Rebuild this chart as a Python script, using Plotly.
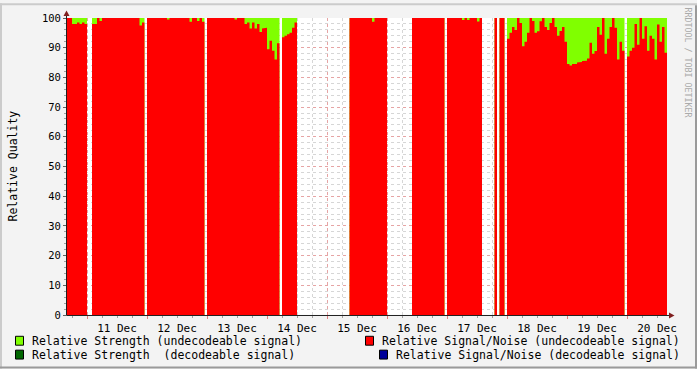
import plotly.graph_objects as go
from datetime import datetime, timedelta

# ---------------- data (hourly bins starting 10 Dec 16:00) ----------------
start = datetime(2008, 12, 10, 16, 0)
end = datetime(2008, 12, 20, 16, 0)
bin_hours = 1

seg_a = [100, 100, 98, 98, 98.5, 98, 98.5, 98]
seg_b = [98, 98, 100, 99] + [100] * 15 + [97.5, 98.5]
seg_c = [100] * 8 + [99.5] + [100] * 8 + [98.7, 100, 100, 99, 100, 98.7]
seg_d = [100] * 11 + [99.5, 100, 100, 100, 98, 98.5, 96.5, 98.5, 96.5, 98,
                      95.3, 96.5, 96.7, 89.5, 92.3, 89, 86, 91.5]
seg_e = [93.5, 94, 94.5, 95, 96.7, 98.5]
seg_f = [100] * 9 + [98.7] + [100] * 5
seg_g = [100] * 13
seg_h = [100] * 6 + [99.3, 100, 99.3, 100, 100, 100, 98.8, 100]
seg_i = [100]
seg_j = [100, 100]
seg_k = [93, 95, 97, 96, 100, 98.3, 90.5, 92, 95, 100, 99, 95, 95.5, 98.9, 100,
         97, 96, 98.3, 100, 97, 94, 95.6, 97, 92, 84.5, 84, 84.5, 84.5, 85, 85.2,
         85.5, 85.6, 86.4, 91.7, 88, 88.9, 97, 94.4, 100, 88, 93, 97, 100, 96.7,
         86, 92, 89]
seg_l = [87, 89, 90, 98, 91, 100, 93, 97.2, 89, 94, 93, 86, 97.8, 92, 97, 88.3]

# Relative Signal/Noise (undecodeable signal)
snr_undec = (seg_a + [None] * 2 + seg_b + [None] + seg_c + [None] + seg_d + [None]
             + seg_e + [None] * 21 + seg_f + [None] * 10 + seg_g + [None] + seg_h
             + [None] * 5 + seg_i + [None] + seg_j + [None] + seg_k + [None] + seg_l)

# Relative Strength (undecodeable signal)
str_undec = ([100] * 8 + [None] * 2 + [100] * 21 + [None] + [100] * 23 + [None]
             + [100] * 29 + [None] + [100] * 6 + [None] * 21 + [100] * 15
             + [None] * 10 + [100] * 13 + [None] + [100] * 14 + [None] * 5
             + [100] + [None] + [100] * 2 + [None] + [100] * 47 + [None] + [100] * 16)

legend_labels = [
    ("Relative Strength (undecodeable signal)", "#80FF00"),
    ("Relative Strength  (decodeable signal)", "#006600"),
    ("Relative Signal/Noise (undecodeable signal)", "#FF0000"),
    ("Relative Signal/Noise (decodeable signal)", "#000099"),
]
y_title = "Relative Quality"
watermark = "RRDTOOL / TOBI OETIKER"

FONT = "DejaVu Sans Mono"


def steps(values):
    """Step outline; missing bins collapse to zero height (no fill)."""
    xs, ys = [], []
    for k, v in enumerate(values):
        t0 = start + timedelta(hours=k * bin_hours)
        h = 0 if v is None else v
        xs += [t0, t0 + timedelta(hours=bin_hours)]
        ys += [h, h]
    return xs, ys


fig = go.Figure()
for vals, col in [(str_undec, "#80FF00"), (snr_undec, "#FF0000")]:
    xs, ys = steps(vals)
    fig.add_trace(go.Scatter(x=xs, y=ys, mode="lines", fill="tozeroy",
                             fillcolor=col, line=dict(width=0, color=col),
                             hoverinfo="skip", showlegend=False))

# pixel helpers for layout decoration (plot area 67..667 x 15..315)
L, R, T, B = 67, 667, 15, 315


def pxx(px):
    return (px - L) / (R - L)


def pyy(py):
    return (B - py) / (B - T)


shapes = []
# frame shading
shapes.append(dict(type="rect", xref="paper", yref="paper", x0=pxx(0), x1=pxx(697),
                   y0=pyy(0), y1=pyy(2), fillcolor="#CBCBCB", line_width=0))
shapes.append(dict(type="rect", xref="paper", yref="paper", x0=pxx(0), x1=pxx(2),
                   y0=pyy(0), y1=pyy(369), fillcolor="#CBCBCB", line_width=0))
shapes.append(dict(type="rect", xref="paper", yref="paper", x0=pxx(0), x1=pxx(697),
                   y0=pyy(367), y1=pyy(369), fillcolor="#9A9A9A", line_width=0))
shapes.append(dict(type="rect", xref="paper", yref="paper", x0=pxx(695), x1=pxx(697),
                   y0=pyy(2), y1=pyy(369), fillcolor="#9A9A9A", line_width=0))
# axis lines
shapes.append(dict(type="line", xref="paper", yref="paper", x0=pxx(66.5), x1=pxx(66.5),
                   y0=pyy(315.5), y1=pyy(11), line=dict(color="#202020", width=1)))
shapes.append(dict(type="line", xref="paper", yref="paper", x0=pxx(66.5), x1=pxx(671),
                   y0=pyy(315.5), y1=pyy(315.5), line=dict(color="#202020", width=1)))
# arrows
shapes.append(dict(type="path", xref="paper", yref="paper",
                   path=f"M {pxx(66.5)},{pyy(7.5)} L {pxx(63.5)},{pyy(13)} L {pxx(69.5)},{pyy(13)} Z",
                   fillcolor="#7F1F1F", line_width=0))
shapes.append(dict(type="path", xref="paper", yref="paper",
                   path=f"M {pxx(674.5)},{pyy(315.5)} L {pxx(669)},{pyy(312.5)} L {pxx(669)},{pyy(318.5)} Z",
                   fillcolor="#7F1F1F", line_width=0))

annotations = []
legend_pos = [(15, 30, 341), (15, 30, 355), (365, 380, 341), (379, 394, 355)]
for (label, col), (sx, tx, cy) in zip(legend_labels, legend_pos):
    shapes.append(dict(type="rect", xref="paper", yref="paper",
                       x0=pxx(sx + 0.5), x1=pxx(sx + 8.5), y0=pyy(cy - 4.5), y1=pyy(cy + 4.5),
                       fillcolor=col, line=dict(color="#000000", width=1)))
    annotations.append(dict(text=label, xref="paper", yref="paper", x=pxx(tx), y=pyy(cy),
                            xanchor="left", yanchor="middle", showarrow=False,
                            font=dict(family=FONT, size=11.5, color="#000000")))

annotations.append(dict(text=y_title, xref="paper", yref="paper", x=pxx(12), y=pyy(165),
                        xanchor="center", yanchor="middle", textangle=-90, showarrow=False,
                        font=dict(family=FONT, size=11.5, color="#000000")))
annotations.append(dict(text=watermark, xref="paper", yref="paper", x=pxx(688), y=pyy(60),
                        xanchor="center", yanchor="middle", textangle=90, showarrow=False,
                        font=dict(family=FONT, size=8.3, color="#AAAAAA")))

fig.update_layout(
    width=697, height=369,
    margin=dict(l=L, r=697 - R, t=T, b=369 - B),
    paper_bgcolor="#F3F3F3", plot_bgcolor="#FFFFFF",
    shapes=shapes, annotations=annotations,
    showlegend=False,
)
fig.update_xaxes(
    type="date", range=[start, end], dtick=86400000, tick0="2008-12-11",
    tickformat="%d %b", ticklabelmode="period",
    showgrid=True, gridcolor="#E6A4A4", griddash="dot", gridwidth=1,
    ticks="outside", ticklen=3, tickcolor="#E08080",
    tickfont=dict(family=FONT, size=11, color="#000000"),
    minor=dict(dtick=6 * 3600000, showgrid=True, gridcolor="#D6D6D6", griddash="dot",
               ticks="outside", ticklen=2, tickcolor="#A0A0A0"),
    showline=False, zeroline=False, fixedrange=True,
)
fig.update_yaxes(
    range=[0, 100], dtick=10, tick0=0,
    showgrid=True, gridcolor="#E6A4A4", griddash="dot", gridwidth=1,
    ticks="outside", ticklen=3, tickcolor="#606060",
    tickfont=dict(family=FONT, size=10.5, color="#000000"),
    minor=dict(dtick=2, showgrid=True, gridcolor="#D6D6D6", griddash="dot",
               ticks="outside", ticklen=2, tickcolor="#A0A0A0"),
    showline=False, zeroline=False, fixedrange=True,
)

fig.write_html("out.html")
